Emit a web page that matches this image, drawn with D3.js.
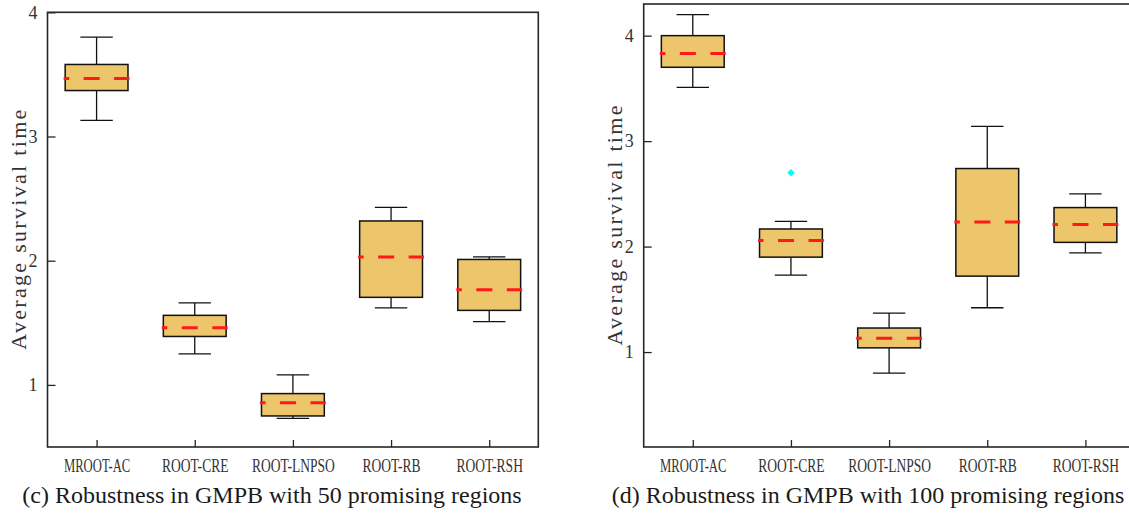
<!DOCTYPE html>
<html>
<head>
<meta charset="utf-8">
<script src="https://cdn.jsdelivr.net/npm/d3@7"></script>
<style>
body{margin:0;background:#fff;}
</style>
</head>
<body>
<div id="content"></div>
<script>
//box plot data
var categories=['MROOT-AC','ROOT-CRE','ROOT-LNPSO','ROOT-RB','ROOT-RSH'];

//panel (c), 50 promising regions
var c_low=[3.13,1.25,0.73,1.62,1.51];
var c_q1=[3.37,1.39,0.75,1.705,1.60];
var c_median=[3.466,1.46,0.857,2.03,1.767];
var c_q3=[3.58,1.56,0.93,2.32,2.01];
var c_high=[3.80,1.66,1.08,2.43,2.03];
var c_outliers=[[],[],[],[],[]];
var c_ticks=[1,2,3,4];
var c_caption='(c) Robustness in GMPB with 50 promising regions';

//panel (d), 100 promising regions
var d_low=[3.51,1.73,0.80,1.42,1.94];
var d_q1=[3.70,1.90,1.04,1.72,2.04];
var d_median=[3.83,2.057,1.13,2.234,2.21];
var d_q3=[4.00,2.167,1.228,2.74,2.37];
var d_high=[4.20,2.24,1.37,3.14,2.50];
var d_outliers=[[],[2.70],[],[],[]];
var d_ticks=[1,2,3,4];
var d_caption='(d) Robustness in GMPB with 100 promising regions';

var y_label='Average survival time';

//layout
var svg_width=1129;
var svg_height=513;
var box_fill='#edc56b';
var median_color='#ff1a1a';
var outlier_color='#00ffff';
var axis_color='#262626';
var label_color='#333333';
var cat_char_width=8.3;

var panel_c={left:47.5, right:538.3, top:12.3, bottom:447, domain:[0.5,4], ylabel_x:18, caption_x:272};
var panel_d={left:643.7, right:1134.5, top:4, bottom:447, domain:[0.1,4.3], ylabel_x:614, caption_x:868};

var svg=d3.select('#content').append('svg')
	.attr('width',svg_width)
	.attr('height',svg_height)
	.style('background','#fff');

//combines the arrays into one row per category
function makeRows(low,q1,median,q3,high,outliers){
	return categories.map(function(cat,i){
		return {cat:cat, low:low[i], q1:q1[i], median:median[i], q3:q3[i], high:high[i], outliers:outliers[i]};
	});
}

//draws one box plot panel with frame, axes, boxes, labels and caption
function drawPanel(p, rows, ticks, caption){
	var xScale=d3.scalePoint().domain(categories).range([p.left,p.right]).padding(0.5);
	var yScale=d3.scaleLinear().domain(p.domain).range([p.bottom,p.top]);
	var step=xScale.step();
	var boxW=step*0.64;
	var capW=step*0.33;

	var g=svg.append('g');

	//y axis, ticks pointing inwards
	var yAxis=g.append('g')
		.attr('transform','translate('+p.left+',0)')
		.call(d3.axisLeft(yScale).tickValues(ticks).tickSize(-8).tickPadding(10).tickFormat(d3.format('d')));
	yAxis.select('.domain').remove();
	yAxis.selectAll('line').attr('stroke',axis_color).attr('stroke-width',1.3);
	yAxis.selectAll('text')
		.attr('fill',label_color)
		.style('font-family','"Liberation Serif", serif')
		.style('font-size','18px');

	//x axis, labels squeezed horizontally to the narrow look of the original
	var xAxis=g.append('g')
		.attr('transform','translate(0,'+p.bottom+')')
		.call(d3.axisBottom(xScale).tickSize(-7).tickPadding(12));
	xAxis.select('.domain').remove();
	xAxis.selectAll('line').attr('stroke',axis_color).attr('stroke-width',1.3);
	xAxis.selectAll('text')
		.attr('fill',label_color)
		.style('font-family','"Liberation Serif", serif')
		.style('font-size','19px')
		.attr('transform',function(d){
			var w=this.getComputedTextLength();
			return 'scale('+(d.length*cat_char_width/w)+',1)';
		});

	//frame
	g.append('rect')
		.attr('x',p.left)
		.attr('y',p.top)
		.attr('width',p.right-p.left)
		.attr('height',p.bottom-p.top)
		.attr('fill','none')
		.attr('stroke',axis_color)
		.attr('stroke-width',1.6);

	var boxes=g.selectAll('.box')
		.data(rows)
		.enter().append('g')
		.attr('class','box');

	//whiskers
	boxes.append('line')
		.attr('x1',function(d){return xScale(d.cat);})
		.attr('x2',function(d){return xScale(d.cat);})
		.attr('y1',function(d){return yScale(d.high);})
		.attr('y2',function(d){return yScale(d.q3);})
		.attr('stroke','#111').attr('stroke-width',1.3);
	boxes.append('line')
		.attr('x1',function(d){return xScale(d.cat);})
		.attr('x2',function(d){return xScale(d.cat);})
		.attr('y1',function(d){return yScale(d.q1);})
		.attr('y2',function(d){return yScale(d.low);})
		.attr('stroke','#111').attr('stroke-width',1.3);
	boxes.append('line')
		.attr('x1',function(d){return xScale(d.cat)-capW/2;})
		.attr('x2',function(d){return xScale(d.cat)+capW/2;})
		.attr('y1',function(d){return yScale(d.high);})
		.attr('y2',function(d){return yScale(d.high);})
		.attr('stroke','#111').attr('stroke-width',1.3);
	boxes.append('line')
		.attr('x1',function(d){return xScale(d.cat)-capW/2;})
		.attr('x2',function(d){return xScale(d.cat)+capW/2;})
		.attr('y1',function(d){return yScale(d.low);})
		.attr('y2',function(d){return yScale(d.low);})
		.attr('stroke','#111').attr('stroke-width',1.3);

	//boxes
	boxes.append('rect')
		.attr('x',function(d){return xScale(d.cat)-boxW/2;})
		.attr('y',function(d){return yScale(d.q3);})
		.attr('width',boxW)
		.attr('height',function(d){return yScale(d.q1)-yScale(d.q3);})
		.attr('fill',box_fill)
		.attr('stroke','#111')
		.attr('stroke-width',1.5);

	//dashed medians
	boxes.append('line')
		.attr('x1',function(d){return xScale(d.cat)-boxW/2-1.5;})
		.attr('x2',function(d){return xScale(d.cat)+boxW/2+1.5;})
		.attr('y1',function(d){return yScale(d.median);})
		.attr('y2',function(d){return yScale(d.median);})
		.attr('stroke',median_color)
		.attr('stroke-width',3)
		.attr('stroke-dasharray','16,14.5')
		.attr('stroke-dashoffset',10.5);

	//outliers
	boxes.selectAll('.outlier')
		.data(function(d){return d.outliers.map(function(v){return {cat:d.cat, v:v};});})
		.enter().append('path')
		.attr('class','outlier')
		.attr('d',d3.symbol().type(d3.symbolDiamond2).size(36))
		.attr('transform',function(d){return 'translate('+xScale(d.cat)+','+yScale(d.v)+')';})
		.attr('fill',outlier_color);

	//y axis label
	g.append('text')
		.attr('transform','translate('+p.ylabel_x+','+((p.top+p.bottom)/2)+') rotate(-90)')
		.attr('text-anchor','middle')
		.attr('dy','0.35em')
		.attr('textLength',240)
		.attr('lengthAdjust','spacing')
		.attr('fill',label_color)
		.style('font-family','"Liberation Serif", serif')
		.style('font-size','22px')
		.text(y_label);

	//caption
	g.append('text')
		.attr('x',p.caption_x)
		.attr('y',503)
		.attr('text-anchor','middle')
		.attr('fill','#1a1a1a')
		.style('font-family','"Liberation Serif", serif')
		.style('font-size','24px')
		.text(caption);
}

drawPanel(panel_c, makeRows(c_low,c_q1,c_median,c_q3,c_high,c_outliers), c_ticks, c_caption);
drawPanel(panel_d, makeRows(d_low,d_q1,d_median,d_q3,d_high,d_outliers), d_ticks, d_caption);
</script>
</body>
</html>
